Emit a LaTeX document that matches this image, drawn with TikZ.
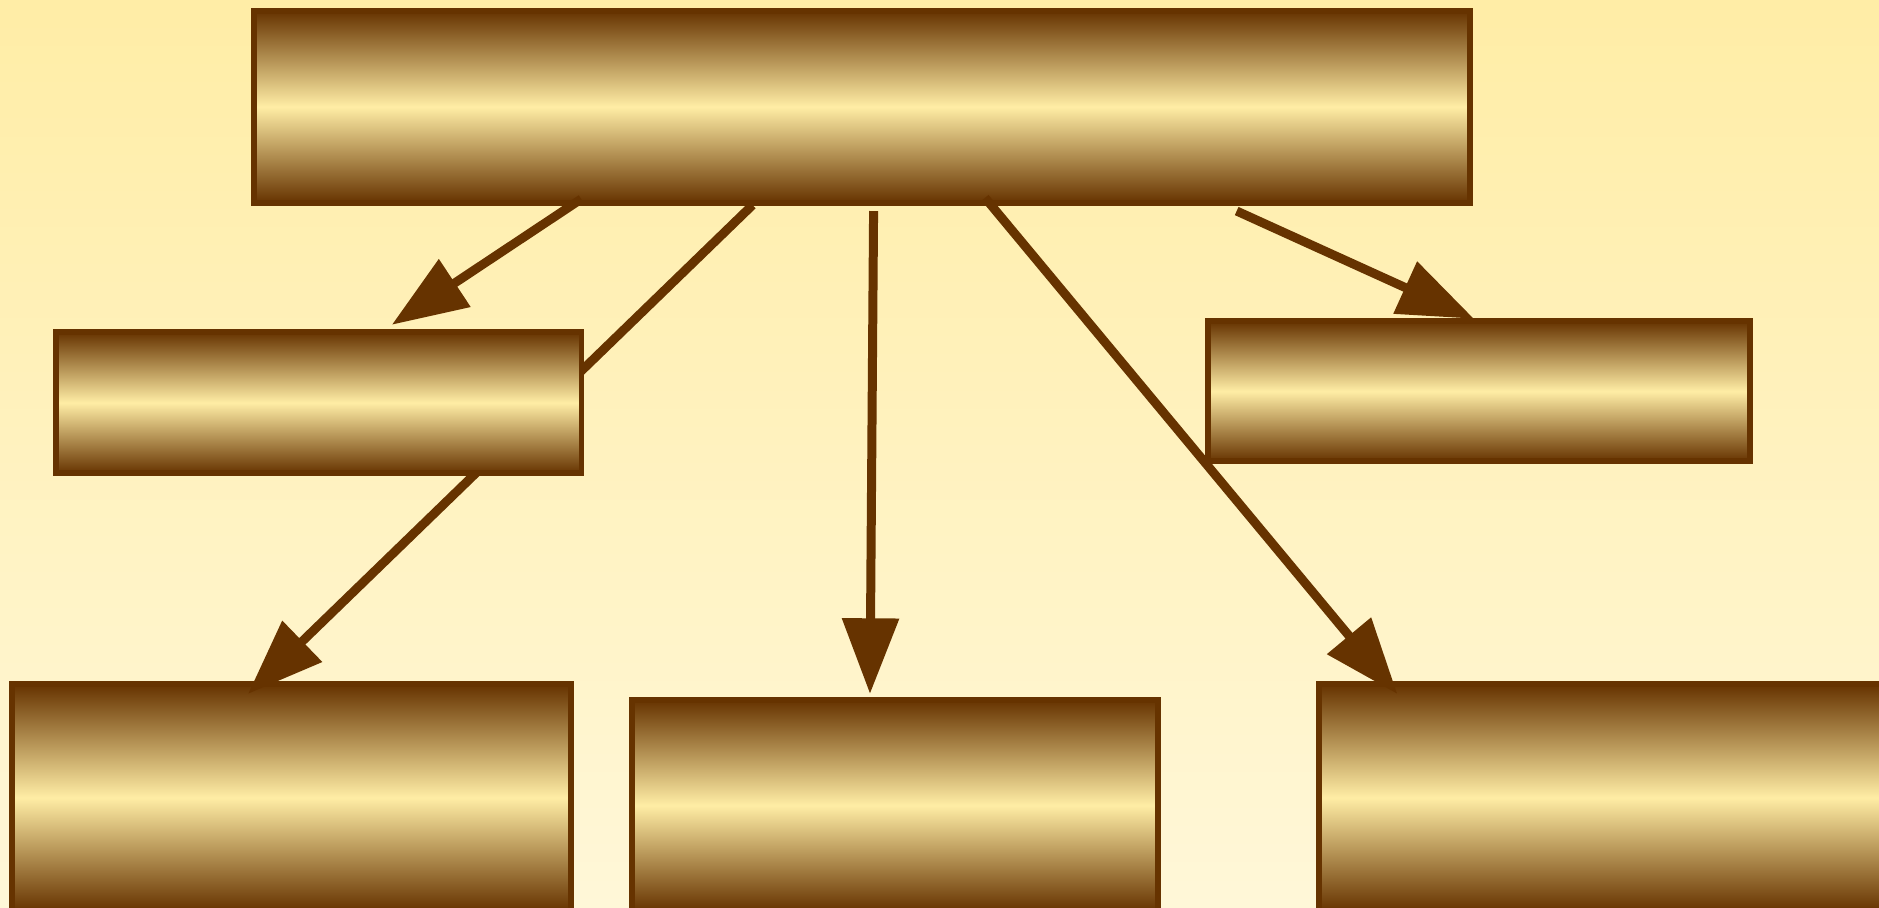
\documentclass[tikz,border=0pt]{standalone}
\usetikzlibrary{arrows.meta,calc}
\definecolor{gdark}{HTML}{663300}
\definecolor{glight}{HTML}{FFEDA5}
\definecolor{bgtop}{HTML}{FFEDA6}
\definecolor{bgbot}{HTML}{FFF7D8}
\pgfdeclareverticalshading{goldsh}{100bp}{color(0bp)=(gdark); color(25bp)=(gdark); color(50bp)=(glight); color(75bp)=(gdark); color(100bp)=(gdark)}
\pgfdeclarelayer{canvas}
\pgfdeclarelayer{lower}
\pgfdeclarelayer{wires}
\pgfsetlayers{canvas,lower,wires,main}
\begin{document}
\begin{tikzpicture}[x=0.01cm,y=-0.01cm,
  goldbox/.style={rectangle, draw=gdark, line width=0.05cm, shading=goldsh, inner sep=0pt, outer sep=0pt, anchor=north west},
  link/.style={draw=gdark, line width=0.075cm, -{Triangle[length=0.63cm,width=0.46cm]}}]
\useasboundingbox (0,0) rectangle (1568,757);
\begin{pgfonlayer}{canvas}
  \shade[top color=bgtop, bottom color=bgbot] (0,0) rectangle (1568,757);
\end{pgfonlayer}
\begin{pgfonlayer}{lower}
  \node[goldbox, minimum width=10.14cm, minimum height=1.60cm] (top) at (212,9) {};
  \node[goldbox, minimum width=4.66cm, minimum height=1.89cm] (bl) at (10,571) {};
  \node[goldbox, minimum width=4.39cm, minimum height=1.76cm] (bm) at (527,584) {};
  \node[goldbox, minimum width=4.70cm, minimum height=1.89cm] (br) at (1101,571) {};
\end{pgfonlayer}
\node[goldbox, minimum width=4.38cm, minimum height=1.18cm] (lmid) at (47,277) {};
\node[goldbox, minimum width=4.52cm, minimum height=1.17cm] (rmid) at (1008,268) {};
\begin{pgfonlayer}{wires}
  \draw[link] ($(top.south west)+(273,-3)$) -- ($(lmid.north west)+(280,-6)$);
  \draw[link] ($(top.south west)+(416,2)$) -- ($(bl.north west)+(197,8)$);
  \draw[link] ($(top.south west)+(517,7)$) -- ($(bm.north west)+(199,-5)$);
  \draw[link] ($(top.south west)+(610,-4)$) -- ($(br.north west)+(65,8)$);
  \draw[link] ($(top.south west)+(820,7)$) -- ($(rmid.north west)+(222,-2)$);
\end{pgfonlayer}
\end{tikzpicture}
\end{document}
